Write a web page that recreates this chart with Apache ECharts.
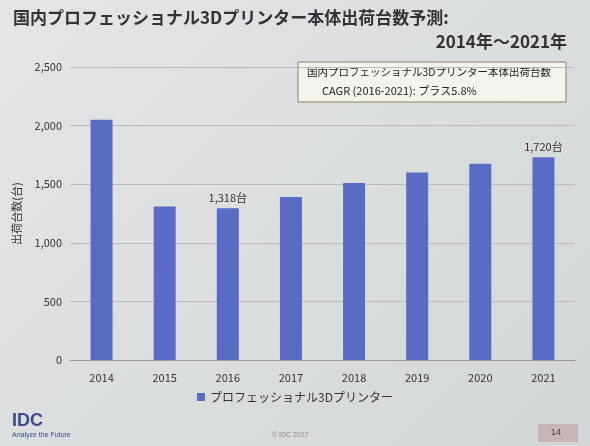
<!DOCTYPE html>
<html><head><meta charset="utf-8">
<script src="https://cdn.jsdelivr.net/npm/echarts@6/dist/echarts.min.js"></script>
<style>html,body{margin:0;padding:0;}#c{width:590px;height:446px;background:linear-gradient(135deg,#e4e6e6,#d2d6d6);}</style>
</head><body><div id="c"></div>
<script>
const categories=['2014','2015','2016','2017','2018','2019','2020','2021'];
const shipments=[2050,1310,1295,1390,1510,1600,1675,1730];
const pointLabels={2:'1,318台',7:'1,720台'};
const yTicks=[0,500,1000,1500,2000,2500];
const chart=echarts.init(document.getElementById('c'));
chart.setOption({
  textStyle:{fontFamily:'Noto Sans CJK JP'},
  title:[{text:'国内プロフェッショナル3Dプリンター本体出荷台数予測:',left:8,top:4,textStyle:{fontSize:17,fontWeight:'bold',color:'#333'}},
         {text:'2014年～2021年',right:18,top:28,textStyle:{fontSize:17,fontWeight:'bold',color:'#333'}}],
  graphic:[
    {type:'rect',shape:{x:298,y:62,width:268,height:40},style:{fill:'#f4f3ee',stroke:'#8a8060',lineWidth:1}},
    {type:'text',left:307,top:67,style:{text:'国内プロフェッショナル3Dプリンター本体出荷台数',fontSize:10.5,fill:'#222',fontFamily:'Noto Sans CJK JP'}},
    {type:'text',left:322,top:85,style:{text:'CAGR (2016-2021): プラス5.8%',fontSize:11,fill:'#222',fontFamily:'Noto Sans CJK JP'}},
    {type:'text',left:12,top:412,style:{text:'IDC',fontSize:18,fontWeight:'bold',fill:'#3a4a8a'}},
    {type:'text',left:12,top:432,style:{text:'Analyze the Future',fontSize:7,fill:'#3a4a8a'}},
    {type:'text',left:272,top:432,style:{text:'© IDC 2017',fontSize:7,fill:'#888'}},
    {type:'rect',shape:{x:538,y:424,width:40,height:18},style:{fill:'#c9b5b5'}},
    {type:'text',left:551,top:428,style:{text:'14',fontSize:9,fill:'#444'}}
  ],
  grid:{left:70,right:15,top:67,bottom:86},
  legend:{bottom:38,left:'center',itemWidth:8,itemHeight:8,icon:'rect',textStyle:{fontSize:12,color:'#333'}},
  xAxis:{type:'category',data:categories,axisLine:{lineStyle:{color:'#999'}},axisTick:{show:false},axisLabel:{fontSize:11,color:'#333',margin:12}},
  yAxis:{type:'value',min:0,max:2500,interval:500,name:'出荷台数(台)',nameLocation:'middle',nameGap:48,nameTextStyle:{fontSize:11,color:'#333'},
    axisLabel:{fontSize:11,color:'#333',formatter:v=>v.toLocaleString('en-US')},splitLine:{lineStyle:{color:'#bbb'}}},
  series:[{name:'プロフェッショナル3Dプリンター',type:'bar',barWidth:22,data:shipments,itemStyle:{color:'#5a6bc4'},
    label:{show:true,position:'top',fontSize:11,color:'#333',formatter:p=>pointLabels[p.dataIndex]||''}}]
});
</script></body></html>
